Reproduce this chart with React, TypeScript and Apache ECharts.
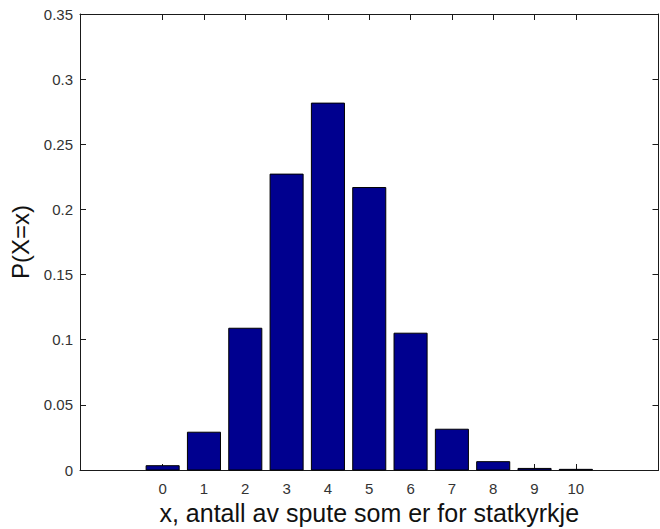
import React, { useEffect, useRef } from "react";
import * as echarts from "echarts";

const xValues = [0, 1, 2, 3, 4, 5, 6, 7, 8, 9, 10];
const probabilities = [0.0033, 0.029, 0.1088, 0.2271, 0.2816, 0.2168, 0.105, 0.0313, 0.0064, 0.0012, 0.0005];
const xTicks = [0, 1, 2, 3, 4, 5, 6, 7, 8, 9, 10];
const xLabel = "x, antall av spute som er for statkyrkje";
const yLabel = "P(X=x)";

const BAR_FRACTION = 0.8;
const FONT = "'Liberation Sans', Arial, Helvetica, sans-serif";

export default function App() {
  const ref = useRef<HTMLDivElement>(null);

  useEffect(() => {
    document.body.style.margin = "0";
    const chart = echarts.init(ref.current!, null, { renderer: "svg" });
    const axisLine = { show: true, onZero: false, lineStyle: { color: "#1a1a1a", width: 1 } };
    const tickStyle = { show: true, inside: true, length: 6, lineStyle: { color: "#1a1a1a", width: 1 } };
    const fmtY = (v: number) => String(+v.toFixed(2));
    const fmtX = (v: number) => (v >= 0 && v <= 10 ? String(v) : "");

    chart.setOption({
      animation: false,
      backgroundColor: "#ffffff",
      grid: { left: 80, right: 1.5, top: 14, bottom: 59, containLabel: false, outerBoundsMode: "none" },
      xAxis: [
        {
          type: "value",
          position: "bottom",
          min: -2,
          max: 12,
          interval: 1,
          axisLine,
          axisTick: { ...tickStyle, customValues: xTicks },
          axisLabel: {
            customValues: xTicks,
            formatter: fmtX,
            color: "#333",
            fontSize: 15,
            fontFamily: FONT,
            margin: 11,
          },
          splitLine: { show: false },
          name: xLabel,
          nameLocation: "middle",
          nameGap: 30,
          nameTextStyle: { fontSize: 25, color: "#111", fontFamily: FONT },
        },
        {
          type: "value",
          position: "top",
          min: -2,
          max: 12,
          interval: 1,
          axisLine,
          axisTick: { ...tickStyle, customValues: xTicks },
          axisLabel: { show: false },
          splitLine: { show: false },
        },
      ],
      yAxis: [
        {
          type: "value",
          position: "left",
          min: 0,
          max: 0.35,
          interval: 0.05,
          axisLine,
          axisTick: tickStyle,
          axisLabel: {
            formatter: fmtY,
            color: "#333",
            fontSize: 15,
            fontFamily: FONT,
            margin: 7,
          },
          splitLine: { show: false },
          name: yLabel,
          nameLocation: "middle",
          nameGap: 45,
          nameRotate: 90,
          nameTextStyle: { fontSize: 24, color: "#111", fontFamily: FONT },
        },
        {
          type: "value",
          position: "right",
          min: 0,
          max: 0.35,
          interval: 0.05,
          axisLine,
          axisTick: tickStyle,
          axisLabel: { show: false },
          splitLine: { show: false },
        },
      ],
      series: [
        {
          type: "custom",
          xAxisIndex: 0,
          yAxisIndex: 0,
          data: xValues.map((x, i) => [x, probabilities[i]]),
          renderItem: (params: any, api: any) => {
            const x = api.value(0);
            const y = api.value(1);
            const base = api.coord([x, 0]);
            const top = api.coord([x, y]);
            const w = api.size([BAR_FRACTION, 0])[0];
            return {
              type: "rect",
              shape: { x: base[0] - w / 2, y: top[1], width: w, height: base[1] - top[1] },
              style: { fill: "#00008F", stroke: "#000000", lineWidth: 1 },
            };
          },
        },
      ],
    });
    return () => chart.dispose();
  }, []);

  return (
    <div
      ref={ref}
      style={{ position: "fixed", left: 0, top: 0, width: 660, height: 529, background: "#fff" }}
    />
  );
}
